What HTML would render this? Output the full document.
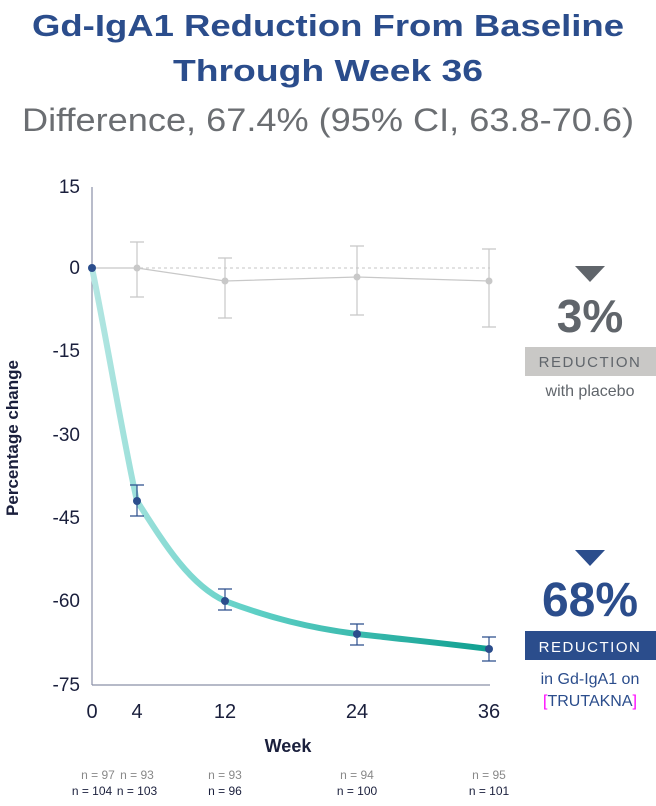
<!DOCTYPE html>
<html><head><meta charset="utf-8"><style>
body{margin:0;background:#fff;width:656px;height:801px;overflow:hidden;font-family:"Liberation Sans",sans-serif}
</style></head><body>
<svg width="656" height="801" xmlns="http://www.w3.org/2000/svg" font-family="Liberation Sans, sans-serif">
<defs><linearGradient id="g" x1="92" y1="0" x2="489" y2="0" gradientUnits="userSpaceOnUse">
<stop offset="0" stop-color="#b4e6e2"/><stop offset="0.4" stop-color="#5fd0c6"/><stop offset="1" stop-color="#0f9f90"/></linearGradient></defs>
<text x="328" y="36" text-anchor="middle" font-size="31" font-weight="bold" fill="#2b4d8c" textLength="592" lengthAdjust="spacingAndGlyphs">Gd-IgA1 Reduction From Baseline</text>
<text x="328" y="81" text-anchor="middle" font-size="31" font-weight="bold" fill="#2b4d8c" textLength="310" lengthAdjust="spacingAndGlyphs">Through Week 36</text>
<text x="328" y="131" text-anchor="middle" font-size="32" fill="#6b6e72" textLength="612" lengthAdjust="spacingAndGlyphs">Difference, 67.4% (95% CI, 63.8-70.6)</text>
<g font-size="19" fill="#1a1f3c" text-anchor="end">
<text x="80" y="193">15</text><text x="80" y="274">0</text><text x="80" y="357">-15</text><text x="80" y="441">-30</text><text x="80" y="524">-45</text><text x="80" y="607">-60</text><text x="80" y="691">-75</text></g>
<g font-size="20" fill="#1a1f3c" text-anchor="middle">
<text x="92" y="718">0</text><text x="137" y="718">4</text><text x="225" y="718">12</text><text x="357" y="718">24</text><text x="489" y="718">36</text></g>
<text x="288" y="752" text-anchor="middle" font-size="18" font-weight="bold" fill="#1a1f3c">Week</text>
<text transform="translate(18,438) rotate(-90)" text-anchor="middle" font-size="17" font-weight="bold" fill="#1a1f3c">Percentage change</text>
<line x1="92" y1="187" x2="92" y2="685" stroke="#8a90a8" stroke-width="1.2"/>
<line x1="92" y1="685" x2="490" y2="685" stroke="#8a90a8" stroke-width="1.2"/>
<line x1="92" y1="268" x2="490" y2="268" stroke="#c4c4c4" stroke-width="1" stroke-dasharray="3,3"/>
<g stroke="#c8c8c8" stroke-width="1.2" fill="none">
<polyline points="92,268 137,268 225,281 357,277 489,281"/>
<path d="M137,242V297M130,242H144M130,297H144M225,258V318M218,258H232M218,318H232M357,246V315M350,246H364M350,315H364M489,249V327M482,249H496M482,327H496"/></g>
<g fill="#c8c8c8"><circle cx="137" cy="268" r="3.5"/><circle cx="225" cy="281" r="3.5"/><circle cx="357" cy="277" r="3.5"/><circle cx="489" cy="281" r="3.5"/></g>
<path d="M92,268 C105,330 125,450 137,501 C165,545 190,585 225,601 C270,618 310,628 357,634 C410,640 450,644 489,649" stroke="url(#g)" stroke-width="6" fill="none"/>
<g stroke="#2b4d8c" stroke-width="1.2" fill="none">
<path d="M137,485V516M130,485H144M130,516H144M225,589V610M218,589H232M218,610H232M357,624V645M350,624H364M350,645H364M489,637V661M482,637H496M482,661H496"/></g>
<g fill="#2b4d8c"><circle cx="92" cy="268" r="4"/><circle cx="137" cy="501" r="4"/><circle cx="225" cy="601" r="4"/><circle cx="357" cy="634" r="4"/><circle cx="489" cy="649" r="4"/></g>
<g font-size="12" text-anchor="middle" fill="#888">
<text x="98" y="779">n = 97</text><text x="137" y="779">n = 93</text><text x="225" y="779">n = 93</text><text x="357" y="779">n = 94</text><text x="489" y="779">n = 95</text></g>
<g font-size="12" text-anchor="middle" fill="#1a1f3c">
<text x="92" y="795">n = 104</text><text x="137" y="795">n = 103</text><text x="225" y="795">n = 96</text><text x="357" y="795">n = 100</text><text x="489" y="795">n = 101</text></g>
<polygon points="575,266 605,266 590,282" fill="#60656b"/>
<text x="590" y="332" text-anchor="middle" font-size="46" font-weight="bold" fill="#60656b">3%</text>
<rect x="525" y="347" width="131" height="29" fill="#c9c8c6"/>
<text x="590" y="367" text-anchor="middle" font-size="15" letter-spacing="1.5" fill="#60656b">REDUCTION</text>
<text x="590" y="396" text-anchor="middle" font-size="16" fill="#60656b">with placebo</text>
<polygon points="575,550 605,550 590,566" fill="#2b4d8c"/>
<text x="590" y="616" text-anchor="middle" font-size="48" font-weight="bold" fill="#2b4d8c">68%</text>
<rect x="525" y="631" width="131" height="29" fill="#2b4d8c"/>
<text x="590" y="652" text-anchor="middle" font-size="15" letter-spacing="1.5" fill="#fff">REDUCTION</text>
<text x="590" y="684" text-anchor="middle" font-size="16" fill="#2b4d8c">in Gd-IgA1 on</text>
<text x="590" y="706" text-anchor="middle" font-size="16" fill="#2b4d8c"><tspan fill="#ff00ff">[</tspan>TRUTAKNA<tspan fill="#ff00ff">]</tspan></text>
</svg>
</body></html>
